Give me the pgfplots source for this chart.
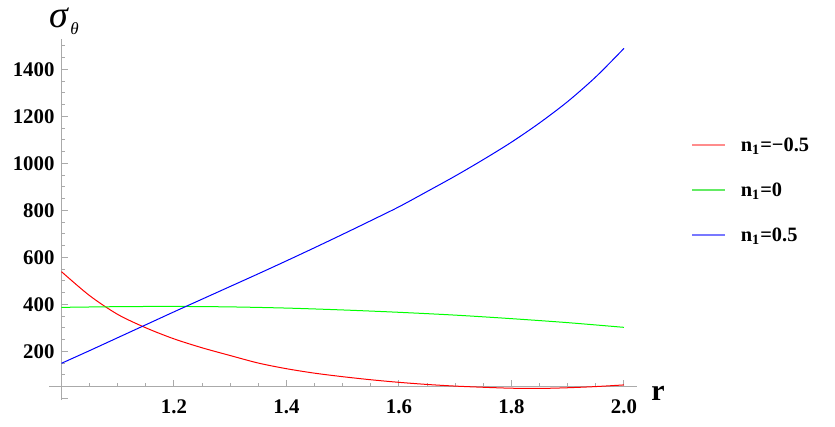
\documentclass[border=0pt]{standalone}
\usepackage{fontspec}
\setmainfont{Liberation Serif}
\usepackage{pgfplots}
\pgfplotsset{compat=1.18}
\definecolor{axgray}{RGB}{170,170,170}
\definecolor{mred}{RGB}{255,0,0}
\definecolor{mgreen}{RGB}{0,255,0}
\definecolor{mblue}{RGB}{0,0,255}
\definecolor{lred}{RGB}{255,140,140}
\definecolor{lgreen}{RGB}{100,235,100}
\definecolor{lblue}{RGB}{120,120,255}

\begin{document}
\begin{tikzpicture}
\useasboundingbox (-24.55pt,-13.4pt) rectangle (392.95pt,200.1pt);
\begin{axis}[
  at={(0pt,0pt)}, anchor=south west,
  x=281.25pt, y=0.1175pt,
  xmin=0.978, xmax=2.023,
  ymin=-8, ymax=1530,
  axis lines=left,
  axis line style={-, draw=axgray, line width=0.5pt},
  axis x line shift=-6.815pt,
  axis y line shift=-6.19pt,
  tick align=inside,
  tick style={axgray, line width=0.5pt},
  major tick length=3.5pt, minor tick length=2pt,
  xtick={1,1.2,1.4,1.6,1.8,2},
  xticklabels={,\textbf{1.2},\textbf{1.4},\textbf{1.6},\textbf{1.8},\textbf{2.0}},
  minor xtick={1.05,1.1,1.15,1.25,1.3,1.35,1.45,1.5,1.55,1.65,1.7,1.75,1.85,1.9,1.95},
  ytick={0,200,400,600,800,1000,1200,1400},
  yticklabels={,\textbf{200},\textbf{400},\textbf{600},\textbf{800},\textbf{1000},\textbf{1200},\textbf{1400}},
  minor ytick={50,100,150,250,300,350,450,500,550,650,700,750,850,900,950,1050,1100,1150,1250,1300,1350,1450,1500},
  ticklabel style={font=\fontsize{10.4}{12}\selectfont},
  xticklabel style={yshift=-3pt},
  xlabel={r},
  every axis x label/.style={at={(axis description cs:1.024,-0.002)}, anchor=base west, inner sep=0pt, font=\fontsize{15}{15}\selectfont\bfseries},
  ylabel={\textit{σ}\hspace{0.5pt}\raisebox{-3.6pt}{\fontsize{8.5}{9}\selectfont\textit{θ}}},
  every axis y label/.style={at={(axis description cs:0,1.0317)}, anchor=base west, inner sep=0pt, font=\fontsize{19}{19}\selectfont},
  legend cell align=left,
  legend style={at={(axis description cs:1.0918,0.7345)}, anchor=north west,
    draw=none, fill=none, inner sep=0pt, row sep=12.5pt, column sep=7.5pt,
    font=\fontsize{10.2}{12}\selectfont\bfseries,
    nodes={inner sep=0pt, text height=8pt, text depth=2pt}},
]
% n1 = -0.5
\addplot[mred, line width=0.5pt, smooth,
  legend image code/.code={\draw[draw=lred, line width=0.8pt] (0pt,0pt) -- (16.5pt,0pt);}] coordinates {
  (1.0,539)(1.05,437)(1.1,357)(1.15,300)(1.2,253)(1.25,215)(1.3,182)(1.35,150)
  (1.4,126)(1.45,107)(1.5,92)(1.55,79)(1.6,68)(1.65,59)(1.7,52)(1.75,47)
  (1.8,43)(1.85,42)(1.9,45)(1.95,50)(2.0,57)
};
\addlegendentry{n\textsubscript{1}=−0.5}
% n1 = 0
\addplot[mgreen, line width=0.5pt, smooth,
  legend image code/.code={\draw[draw=lgreen, line width=0.8pt] (0pt,0pt) -- (16.5pt,0pt);}] coordinates {
  (1.0,387)(1.1,390)(1.2,391)(1.3,389)(1.4,384)(1.5,376)(1.6,366)(1.7,354)
  (1.8,339)(1.9,322)(2.0,302)
};
\addlegendentry{n\textsubscript{1}=0}
% n1 = 0.5
\addplot[mblue, line width=0.5pt, smooth,
  legend image code/.code={\draw[draw=lblue, line width=0.8pt] (0pt,0pt) -- (16.5pt,0pt);}] coordinates {
  (1.0,149)(1.05,203)(1.1,258)(1.15,313)(1.2,368)(1.25,422)(1.3,476)(1.35,530)
  (1.4,585)(1.45,641)(1.5,698)(1.55,756)(1.6,815)(1.65,880)(1.7,946)
  (1.75,1016)(1.8,1090)(1.85,1172)(1.9,1263)(1.95,1368)(2.0,1489)
};
\addlegendentry{n\textsubscript{1}=0.5}
\end{axis}
\end{tikzpicture}
\end{document}
